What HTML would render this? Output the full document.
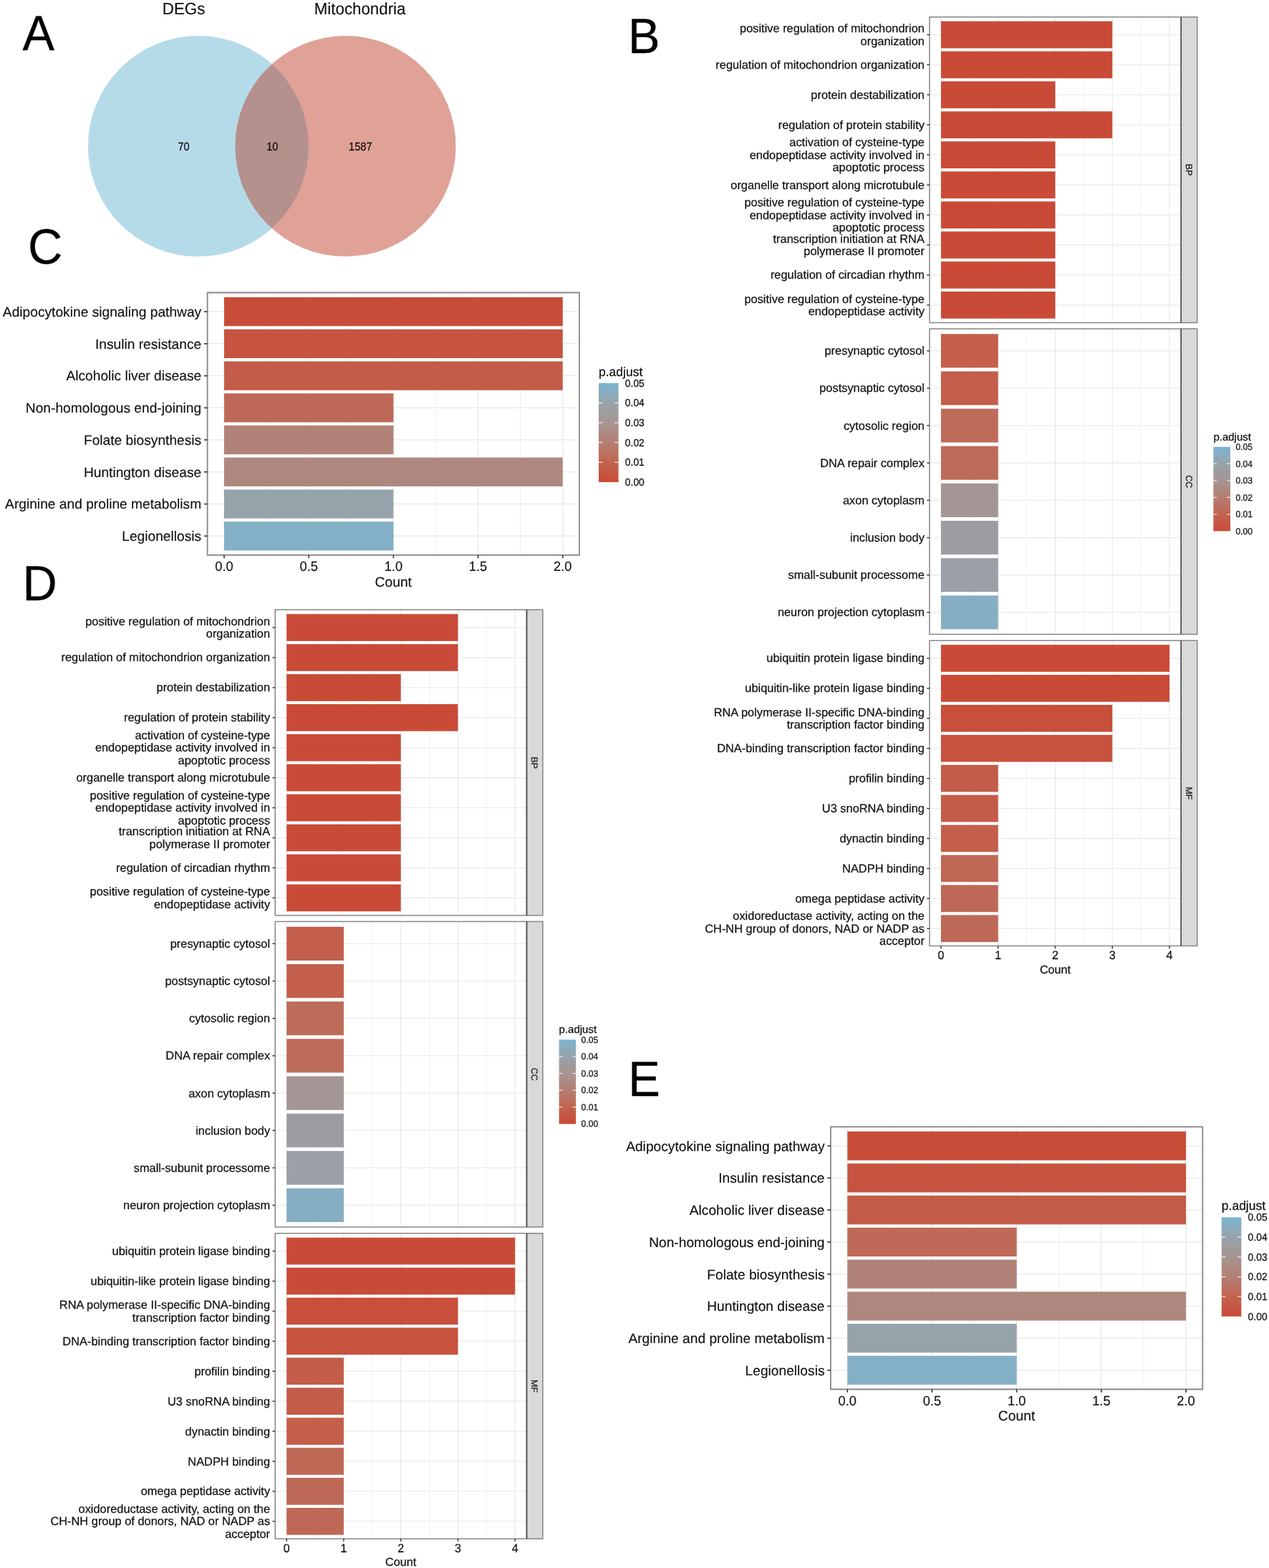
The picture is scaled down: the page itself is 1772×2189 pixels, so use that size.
<!DOCTYPE html>
<html lang="en"><head><meta charset="utf-8"><title>Figure</title>
<style>html,body{margin:0;padding:0;background:#fff}svg{display:block}text{font-family:'Liberation Sans', Arial, Helvetica, sans-serif;text-rendering:geometricPrecision}</style></head><body>
<svg width="1772" height="2189" viewBox="0 0 1772 2189">
<rect width="1772" height="2189" fill="#ffffff"/>
<defs><clipPath id="vclip"><circle cx="276.90" cy="204.10" r="154.00"/></clipPath></defs>
<circle cx="276.9" cy="204.1" r="154.0" fill="#b5dbe9"/>
<circle cx="482.5" cy="204.1" r="154.0" fill="#e0a197"/>
<circle cx="482.5" cy="204.1" r="154.0" fill="#b5918d" clip-path="url(#vclip)"/>
<text transform="translate(256.60,210.00) scale(1,1.1)" font-size="14.6" text-anchor="middle" fill="#111" stroke="#111" stroke-width="0.25">70</text>
<text transform="translate(380.25,210.00) scale(1,1.1)" font-size="14.6" text-anchor="middle" fill="#111" stroke="#111" stroke-width="0.25">10</text>
<text transform="translate(503.30,210.00) scale(1,1.1)" font-size="14.6" text-anchor="middle" fill="#111" stroke="#111" stroke-width="0.25">1587</text>
<text transform="translate(256.60,19.80) scale(1,1.04)" font-size="22.4" text-anchor="middle" fill="#111" stroke="#111" stroke-width="0.15">DEGs</text>
<text transform="translate(502.60,19.80) scale(1,1.04)" font-size="22.3" text-anchor="middle" fill="#111" stroke="#111" stroke-width="0.15">Mitochondria</text>
<text transform="translate(31.50,69.50) scale(1,1.035)" font-size="66.8" text-anchor="start" fill="#000" stroke="#000" stroke-width="0.3">A</text>
<text transform="translate(876.90,74.10) scale(1,1.035)" font-size="66.8" text-anchor="start" fill="#000" stroke="#000" stroke-width="0.3">B</text>
<text transform="translate(38.90,367.60) scale(1,1.035)" font-size="66.8" text-anchor="start" fill="#000" stroke="#000" stroke-width="0.3">C</text>
<text transform="translate(31.50,837.60) scale(1,1.035)" font-size="66.8" text-anchor="start" fill="#000" stroke="#000" stroke-width="0.3">D</text>
<text transform="translate(877.30,1530.40) scale(1,1.035)" font-size="66.8" text-anchor="start" fill="#000" stroke="#000" stroke-width="0.3">E</text>
<g>
<rect x="289.60" y="408.50" width="519.40" height="366.40" fill="#ffffff"/>
<line x1="372.09" y1="408.50" x2="372.09" y2="774.90" stroke="#ebebeb" stroke-width="0.8"/>
<line x1="490.28" y1="408.50" x2="490.28" y2="774.90" stroke="#ebebeb" stroke-width="0.8"/>
<line x1="608.47" y1="408.50" x2="608.47" y2="774.90" stroke="#ebebeb" stroke-width="0.8"/>
<line x1="726.66" y1="408.50" x2="726.66" y2="774.90" stroke="#ebebeb" stroke-width="0.8"/>
<line x1="313.00" y1="408.50" x2="313.00" y2="774.90" stroke="#ebebeb" stroke-width="1.5"/>
<line x1="431.19" y1="408.50" x2="431.19" y2="774.90" stroke="#ebebeb" stroke-width="1.5"/>
<line x1="549.38" y1="408.50" x2="549.38" y2="774.90" stroke="#ebebeb" stroke-width="1.5"/>
<line x1="667.56" y1="408.50" x2="667.56" y2="774.90" stroke="#ebebeb" stroke-width="1.5"/>
<line x1="785.75" y1="408.50" x2="785.75" y2="774.90" stroke="#ebebeb" stroke-width="1.5"/>
<line x1="289.60" y1="435.10" x2="809.00" y2="435.10" stroke="#ebebeb" stroke-width="1.5"/>
<line x1="289.60" y1="479.85" x2="809.00" y2="479.85" stroke="#ebebeb" stroke-width="1.5"/>
<line x1="289.60" y1="524.60" x2="809.00" y2="524.60" stroke="#ebebeb" stroke-width="1.5"/>
<line x1="289.60" y1="569.35" x2="809.00" y2="569.35" stroke="#ebebeb" stroke-width="1.5"/>
<line x1="289.60" y1="614.10" x2="809.00" y2="614.10" stroke="#ebebeb" stroke-width="1.5"/>
<line x1="289.60" y1="658.85" x2="809.00" y2="658.85" stroke="#ebebeb" stroke-width="1.5"/>
<line x1="289.60" y1="703.60" x2="809.00" y2="703.60" stroke="#ebebeb" stroke-width="1.5"/>
<line x1="289.60" y1="748.35" x2="809.00" y2="748.35" stroke="#ebebeb" stroke-width="1.5"/>
<rect x="313.00" y="414.95" width="472.75" height="40.30" fill="#c84d39"/>
<rect x="313.00" y="459.70" width="472.75" height="40.30" fill="#c65440"/>
<rect x="313.00" y="504.45" width="472.75" height="40.30" fill="#c35c48"/>
<rect x="313.00" y="549.20" width="236.38" height="40.30" fill="#be6957"/>
<rect x="313.00" y="593.95" width="236.38" height="40.30" fill="#b18378"/>
<rect x="313.00" y="638.70" width="472.75" height="40.30" fill="#ae887f"/>
<rect x="313.00" y="683.45" width="236.38" height="40.30" fill="#97a3ab"/>
<rect x="313.00" y="728.20" width="236.38" height="40.30" fill="#83b0c6"/>
<rect x="289.60" y="408.50" width="519.40" height="366.40" fill="none" stroke="#868686" stroke-width="1.8" stroke-linejoin="round"/>
<text x="281.20" y="441.97" font-size="19.2" text-anchor="end" fill="#111" stroke="#111" stroke-width="0.15">Adipocytokine signaling pathway</text>
<line x1="285.00" y1="435.10" x2="289.60" y2="435.10" stroke="#333333" stroke-width="1.6"/>
<text x="281.20" y="486.72" font-size="19.2" text-anchor="end" fill="#111" stroke="#111" stroke-width="0.15">Insulin resistance</text>
<line x1="285.00" y1="479.85" x2="289.60" y2="479.85" stroke="#333333" stroke-width="1.6"/>
<text x="281.20" y="531.47" font-size="19.2" text-anchor="end" fill="#111" stroke="#111" stroke-width="0.15">Alcoholic liver disease</text>
<line x1="285.00" y1="524.60" x2="289.60" y2="524.60" stroke="#333333" stroke-width="1.6"/>
<text x="281.20" y="576.22" font-size="19.2" text-anchor="end" fill="#111" stroke="#111" stroke-width="0.15">Non-homologous end-joining</text>
<line x1="285.00" y1="569.35" x2="289.60" y2="569.35" stroke="#333333" stroke-width="1.6"/>
<text x="281.20" y="620.97" font-size="19.2" text-anchor="end" fill="#111" stroke="#111" stroke-width="0.15">Folate biosynthesis</text>
<line x1="285.00" y1="614.10" x2="289.60" y2="614.10" stroke="#333333" stroke-width="1.6"/>
<text x="281.20" y="665.72" font-size="19.2" text-anchor="end" fill="#111" stroke="#111" stroke-width="0.15">Huntington disease</text>
<line x1="285.00" y1="658.85" x2="289.60" y2="658.85" stroke="#333333" stroke-width="1.6"/>
<text x="281.20" y="710.47" font-size="19.2" text-anchor="end" fill="#111" stroke="#111" stroke-width="0.15">Arginine and proline metabolism</text>
<line x1="285.00" y1="703.60" x2="289.60" y2="703.60" stroke="#333333" stroke-width="1.6"/>
<text x="281.20" y="755.22" font-size="19.2" text-anchor="end" fill="#111" stroke="#111" stroke-width="0.15">Legionellosis</text>
<line x1="285.00" y1="748.35" x2="289.60" y2="748.35" stroke="#333333" stroke-width="1.6"/>
<line x1="313.00" y1="774.90" x2="313.00" y2="779.30" stroke="#333333" stroke-width="1.6"/>
<text transform="translate(313.00,797.20) scale(1,1.04)" font-size="18.3" text-anchor="middle" fill="#111" stroke="#111" stroke-width="0.15">0.0</text>
<line x1="431.19" y1="774.90" x2="431.19" y2="779.30" stroke="#333333" stroke-width="1.6"/>
<text transform="translate(431.19,797.20) scale(1,1.04)" font-size="18.3" text-anchor="middle" fill="#111" stroke="#111" stroke-width="0.15">0.5</text>
<line x1="549.38" y1="774.90" x2="549.38" y2="779.30" stroke="#333333" stroke-width="1.6"/>
<text transform="translate(549.38,797.20) scale(1,1.04)" font-size="18.3" text-anchor="middle" fill="#111" stroke="#111" stroke-width="0.15">1.0</text>
<line x1="667.56" y1="774.90" x2="667.56" y2="779.30" stroke="#333333" stroke-width="1.6"/>
<text transform="translate(667.56,797.20) scale(1,1.04)" font-size="18.3" text-anchor="middle" fill="#111" stroke="#111" stroke-width="0.15">1.5</text>
<line x1="785.75" y1="774.90" x2="785.75" y2="779.30" stroke="#333333" stroke-width="1.6"/>
<text transform="translate(785.75,797.20) scale(1,1.04)" font-size="18.3" text-anchor="middle" fill="#111" stroke="#111" stroke-width="0.15">2.0</text>
<text x="549.25" y="818.50" font-size="19.3" text-anchor="middle" fill="#111" stroke="#111" stroke-width="0.15">Count</text>
<defs><linearGradient id="gC" x1="0" y1="0" x2="0" y2="1">
<stop offset="0.000" stop-color="#7ab5d2"/>
<stop offset="0.050" stop-color="#81b0c8"/>
<stop offset="0.100" stop-color="#88acbe"/>
<stop offset="0.150" stop-color="#90a8b5"/>
<stop offset="0.200" stop-color="#97a3ab"/>
<stop offset="0.250" stop-color="#9ba0a5"/>
<stop offset="0.300" stop-color="#9e9c9e"/>
<stop offset="0.350" stop-color="#a29898"/>
<stop offset="0.400" stop-color="#a69592"/>
<stop offset="0.450" stop-color="#aa908a"/>
<stop offset="0.500" stop-color="#ad8a82"/>
<stop offset="0.550" stop-color="#b0847a"/>
<stop offset="0.600" stop-color="#b47f72"/>
<stop offset="0.650" stop-color="#b7786a"/>
<stop offset="0.700" stop-color="#ba7261"/>
<stop offset="0.750" stop-color="#be6b58"/>
<stop offset="0.800" stop-color="#c16450"/>
<stop offset="0.850" stop-color="#c35e4a"/>
<stop offset="0.900" stop-color="#c55743"/>
<stop offset="0.950" stop-color="#c7503d"/>
<stop offset="1.000" stop-color="#c94a36"/>
</linearGradient></defs>
<rect x="836.00" y="534.70" width="27.60" height="138.40" fill="url(#gC)"/>
<text transform="translate(872.80,539.68) scale(1,1.04)" font-size="13.9" text-anchor="start" fill="#111" stroke="#111" stroke-width="0.25">0.05</text>
<line x1="836.00" y1="562.38" x2="841.40" y2="562.38" stroke="#ffffff" stroke-width="1"/>
<line x1="858.20" y1="562.38" x2="863.60" y2="562.38" stroke="#ffffff" stroke-width="1"/>
<text transform="translate(872.80,567.36) scale(1,1.04)" font-size="13.9" text-anchor="start" fill="#111" stroke="#111" stroke-width="0.25">0.04</text>
<line x1="836.00" y1="590.06" x2="841.40" y2="590.06" stroke="#ffffff" stroke-width="1"/>
<line x1="858.20" y1="590.06" x2="863.60" y2="590.06" stroke="#ffffff" stroke-width="1"/>
<text transform="translate(872.80,595.04) scale(1,1.04)" font-size="13.9" text-anchor="start" fill="#111" stroke="#111" stroke-width="0.25">0.03</text>
<line x1="836.00" y1="617.74" x2="841.40" y2="617.74" stroke="#ffffff" stroke-width="1"/>
<line x1="858.20" y1="617.74" x2="863.60" y2="617.74" stroke="#ffffff" stroke-width="1"/>
<text transform="translate(872.80,622.72) scale(1,1.04)" font-size="13.9" text-anchor="start" fill="#111" stroke="#111" stroke-width="0.25">0.02</text>
<line x1="836.00" y1="645.42" x2="841.40" y2="645.42" stroke="#ffffff" stroke-width="1"/>
<line x1="858.20" y1="645.42" x2="863.60" y2="645.42" stroke="#ffffff" stroke-width="1"/>
<text transform="translate(872.80,650.40) scale(1,1.04)" font-size="13.9" text-anchor="start" fill="#111" stroke="#111" stroke-width="0.25">0.01</text>
<text transform="translate(872.80,678.08) scale(1,1.04)" font-size="13.9" text-anchor="start" fill="#111" stroke="#111" stroke-width="0.25">0.00</text>
<text x="836.00" y="524.50" font-size="17.5" text-anchor="start" fill="#111" stroke="#111" stroke-width="0.25">p.adjust</text>
</g>
<g>
<rect x="1649.25" y="23.75" width="22.50" height="426.75" fill="#d9d9d9" stroke="#868686" stroke-width="1.5" stroke-linejoin="round"/>
<rect x="1298.00" y="23.75" width="351.25" height="426.75" fill="#ffffff"/>
<line x1="1353.88" y1="23.75" x2="1353.88" y2="450.50" stroke="#ebebeb" stroke-width="0.65"/>
<line x1="1433.62" y1="23.75" x2="1433.62" y2="450.50" stroke="#ebebeb" stroke-width="0.65"/>
<line x1="1513.38" y1="23.75" x2="1513.38" y2="450.50" stroke="#ebebeb" stroke-width="0.65"/>
<line x1="1593.12" y1="23.75" x2="1593.12" y2="450.50" stroke="#ebebeb" stroke-width="0.65"/>
<line x1="1314.00" y1="23.75" x2="1314.00" y2="450.50" stroke="#ebebeb" stroke-width="1.3"/>
<line x1="1393.75" y1="23.75" x2="1393.75" y2="450.50" stroke="#ebebeb" stroke-width="1.3"/>
<line x1="1473.50" y1="23.75" x2="1473.50" y2="450.50" stroke="#ebebeb" stroke-width="1.3"/>
<line x1="1553.25" y1="23.75" x2="1553.25" y2="450.50" stroke="#ebebeb" stroke-width="1.3"/>
<line x1="1633.00" y1="23.75" x2="1633.00" y2="450.50" stroke="#ebebeb" stroke-width="1.3"/>
<line x1="1298.00" y1="48.50" x2="1649.25" y2="48.50" stroke="#ebebeb" stroke-width="1.3"/>
<line x1="1298.00" y1="90.43" x2="1649.25" y2="90.43" stroke="#ebebeb" stroke-width="1.3"/>
<line x1="1298.00" y1="132.36" x2="1649.25" y2="132.36" stroke="#ebebeb" stroke-width="1.3"/>
<line x1="1298.00" y1="174.29" x2="1649.25" y2="174.29" stroke="#ebebeb" stroke-width="1.3"/>
<line x1="1298.00" y1="216.22" x2="1649.25" y2="216.22" stroke="#ebebeb" stroke-width="1.3"/>
<line x1="1298.00" y1="258.15" x2="1649.25" y2="258.15" stroke="#ebebeb" stroke-width="1.3"/>
<line x1="1298.00" y1="300.08" x2="1649.25" y2="300.08" stroke="#ebebeb" stroke-width="1.3"/>
<line x1="1298.00" y1="342.01" x2="1649.25" y2="342.01" stroke="#ebebeb" stroke-width="1.3"/>
<line x1="1298.00" y1="383.94" x2="1649.25" y2="383.94" stroke="#ebebeb" stroke-width="1.3"/>
<line x1="1298.00" y1="425.87" x2="1649.25" y2="425.87" stroke="#ebebeb" stroke-width="1.3"/>
<rect x="1314.00" y="29.65" width="239.25" height="37.70" fill="#c94b37"/>
<rect x="1314.00" y="71.58" width="239.25" height="37.70" fill="#c94b37"/>
<rect x="1314.00" y="113.51" width="159.50" height="37.70" fill="#c94b37"/>
<rect x="1314.00" y="155.44" width="239.25" height="37.70" fill="#c94b37"/>
<rect x="1314.00" y="197.37" width="159.50" height="37.70" fill="#c94b37"/>
<rect x="1314.00" y="239.30" width="159.50" height="37.70" fill="#c94b37"/>
<rect x="1314.00" y="281.23" width="159.50" height="37.70" fill="#c94b37"/>
<rect x="1314.00" y="323.16" width="159.50" height="37.70" fill="#c94b37"/>
<rect x="1314.00" y="365.09" width="159.50" height="37.70" fill="#c94b37"/>
<rect x="1314.00" y="407.02" width="159.50" height="37.70" fill="#c94b37"/>
<rect x="1298.00" y="23.75" width="351.25" height="426.75" fill="none" stroke="#868686" stroke-width="1.5" stroke-linejoin="round"/>
<text x="1290.90" y="45.22" font-size="16.4" text-anchor="end" fill="#111" stroke="#111" stroke-width="0.25">positive regulation of mitochondrion</text>
<text x="1290.90" y="62.72" font-size="16.4" text-anchor="end" fill="#111" stroke="#111" stroke-width="0.25">organization</text>
<line x1="1294.25" y1="48.50" x2="1298.00" y2="48.50" stroke="#333333" stroke-width="1.4"/>
<text x="1290.90" y="95.90" font-size="16.4" text-anchor="end" fill="#111" stroke="#111" stroke-width="0.25">regulation of mitochondrion organization</text>
<line x1="1294.25" y1="90.43" x2="1298.00" y2="90.43" stroke="#333333" stroke-width="1.4"/>
<text x="1290.90" y="137.83" font-size="16.4" text-anchor="end" fill="#111" stroke="#111" stroke-width="0.25">protein destabilization</text>
<line x1="1294.25" y1="132.36" x2="1298.00" y2="132.36" stroke="#333333" stroke-width="1.4"/>
<text x="1290.90" y="179.76" font-size="16.4" text-anchor="end" fill="#111" stroke="#111" stroke-width="0.25">regulation of protein stability</text>
<line x1="1294.25" y1="174.29" x2="1298.00" y2="174.29" stroke="#333333" stroke-width="1.4"/>
<text x="1290.90" y="204.19" font-size="16.4" text-anchor="end" fill="#111" stroke="#111" stroke-width="0.25">activation of cysteine-type</text>
<text x="1290.90" y="221.69" font-size="16.4" text-anchor="end" fill="#111" stroke="#111" stroke-width="0.25">endopeptidase activity involved in</text>
<text x="1290.90" y="239.19" font-size="16.4" text-anchor="end" fill="#111" stroke="#111" stroke-width="0.25">apoptotic process</text>
<line x1="1294.25" y1="216.22" x2="1298.00" y2="216.22" stroke="#333333" stroke-width="1.4"/>
<text x="1290.90" y="263.62" font-size="16.4" text-anchor="end" fill="#111" stroke="#111" stroke-width="0.25">organelle transport along microtubule</text>
<line x1="1294.25" y1="258.15" x2="1298.00" y2="258.15" stroke="#333333" stroke-width="1.4"/>
<text x="1290.90" y="288.05" font-size="16.4" text-anchor="end" fill="#111" stroke="#111" stroke-width="0.25">positive regulation of cysteine-type</text>
<text x="1290.90" y="305.55" font-size="16.4" text-anchor="end" fill="#111" stroke="#111" stroke-width="0.25">endopeptidase activity involved in</text>
<text x="1290.90" y="323.05" font-size="16.4" text-anchor="end" fill="#111" stroke="#111" stroke-width="0.25">apoptotic process</text>
<line x1="1294.25" y1="300.08" x2="1298.00" y2="300.08" stroke="#333333" stroke-width="1.4"/>
<text x="1290.90" y="338.73" font-size="16.4" text-anchor="end" fill="#111" stroke="#111" stroke-width="0.25">transcription initiation at RNA</text>
<text x="1290.90" y="356.23" font-size="16.4" text-anchor="end" fill="#111" stroke="#111" stroke-width="0.25">polymerase II promoter</text>
<line x1="1294.25" y1="342.01" x2="1298.00" y2="342.01" stroke="#333333" stroke-width="1.4"/>
<text x="1290.90" y="389.41" font-size="16.4" text-anchor="end" fill="#111" stroke="#111" stroke-width="0.25">regulation of circadian rhythm</text>
<line x1="1294.25" y1="383.94" x2="1298.00" y2="383.94" stroke="#333333" stroke-width="1.4"/>
<text x="1290.90" y="422.59" font-size="16.4" text-anchor="end" fill="#111" stroke="#111" stroke-width="0.25">positive regulation of cysteine-type</text>
<text x="1290.90" y="440.09" font-size="16.4" text-anchor="end" fill="#111" stroke="#111" stroke-width="0.25">endopeptidase activity</text>
<line x1="1294.25" y1="425.87" x2="1298.00" y2="425.87" stroke="#333333" stroke-width="1.4"/>
<line x1="1649.25" y1="23.75" x2="1649.25" y2="450.50" stroke="#4d4d4d" stroke-width="1.6"/>
<text transform="translate(1656.10,237.12) rotate(90)" font-size="12.5" text-anchor="middle" fill="#1a1a1a" stroke="#1a1a1a" stroke-width="0.25">BP</text>
<rect x="1649.25" y="459.00" width="22.50" height="426.50" fill="#d9d9d9" stroke="#868686" stroke-width="1.5" stroke-linejoin="round"/>
<rect x="1298.00" y="459.00" width="351.25" height="426.50" fill="#ffffff"/>
<line x1="1353.88" y1="459.00" x2="1353.88" y2="885.50" stroke="#ebebeb" stroke-width="0.65"/>
<line x1="1433.62" y1="459.00" x2="1433.62" y2="885.50" stroke="#ebebeb" stroke-width="0.65"/>
<line x1="1513.38" y1="459.00" x2="1513.38" y2="885.50" stroke="#ebebeb" stroke-width="0.65"/>
<line x1="1593.12" y1="459.00" x2="1593.12" y2="885.50" stroke="#ebebeb" stroke-width="0.65"/>
<line x1="1314.00" y1="459.00" x2="1314.00" y2="885.50" stroke="#ebebeb" stroke-width="1.3"/>
<line x1="1393.75" y1="459.00" x2="1393.75" y2="885.50" stroke="#ebebeb" stroke-width="1.3"/>
<line x1="1473.50" y1="459.00" x2="1473.50" y2="885.50" stroke="#ebebeb" stroke-width="1.3"/>
<line x1="1553.25" y1="459.00" x2="1553.25" y2="885.50" stroke="#ebebeb" stroke-width="1.3"/>
<line x1="1633.00" y1="459.00" x2="1633.00" y2="885.50" stroke="#ebebeb" stroke-width="1.3"/>
<line x1="1298.00" y1="489.80" x2="1649.25" y2="489.80" stroke="#ebebeb" stroke-width="1.3"/>
<line x1="1298.00" y1="541.96" x2="1649.25" y2="541.96" stroke="#ebebeb" stroke-width="1.3"/>
<line x1="1298.00" y1="594.12" x2="1649.25" y2="594.12" stroke="#ebebeb" stroke-width="1.3"/>
<line x1="1298.00" y1="646.28" x2="1649.25" y2="646.28" stroke="#ebebeb" stroke-width="1.3"/>
<line x1="1298.00" y1="698.44" x2="1649.25" y2="698.44" stroke="#ebebeb" stroke-width="1.3"/>
<line x1="1298.00" y1="750.60" x2="1649.25" y2="750.60" stroke="#ebebeb" stroke-width="1.3"/>
<line x1="1298.00" y1="802.76" x2="1649.25" y2="802.76" stroke="#ebebeb" stroke-width="1.3"/>
<line x1="1298.00" y1="854.92" x2="1649.25" y2="854.92" stroke="#ebebeb" stroke-width="1.3"/>
<rect x="1314.00" y="466.25" width="79.75" height="47.10" fill="#c35f4b"/>
<rect x="1314.00" y="518.41" width="79.75" height="47.10" fill="#c35f4b"/>
<rect x="1314.00" y="570.57" width="79.75" height="47.10" fill="#bd6c5a"/>
<rect x="1314.00" y="622.73" width="79.75" height="47.10" fill="#bd6c5a"/>
<rect x="1314.00" y="674.89" width="79.75" height="47.10" fill="#a49694"/>
<rect x="1314.00" y="727.05" width="79.75" height="47.10" fill="#9d9da1"/>
<rect x="1314.00" y="779.21" width="79.75" height="47.10" fill="#9aa0a6"/>
<rect x="1314.00" y="831.37" width="79.75" height="47.10" fill="#86aec2"/>
<rect x="1298.00" y="459.00" width="351.25" height="426.50" fill="none" stroke="#868686" stroke-width="1.5" stroke-linejoin="round"/>
<text x="1290.90" y="495.27" font-size="16.4" text-anchor="end" fill="#111" stroke="#111" stroke-width="0.25">presynaptic cytosol</text>
<line x1="1294.25" y1="489.80" x2="1298.00" y2="489.80" stroke="#333333" stroke-width="1.4"/>
<text x="1290.90" y="547.43" font-size="16.4" text-anchor="end" fill="#111" stroke="#111" stroke-width="0.25">postsynaptic cytosol</text>
<line x1="1294.25" y1="541.96" x2="1298.00" y2="541.96" stroke="#333333" stroke-width="1.4"/>
<text x="1290.90" y="599.59" font-size="16.4" text-anchor="end" fill="#111" stroke="#111" stroke-width="0.25">cytosolic region</text>
<line x1="1294.25" y1="594.12" x2="1298.00" y2="594.12" stroke="#333333" stroke-width="1.4"/>
<text x="1290.90" y="651.75" font-size="16.4" text-anchor="end" fill="#111" stroke="#111" stroke-width="0.25">DNA repair complex</text>
<line x1="1294.25" y1="646.28" x2="1298.00" y2="646.28" stroke="#333333" stroke-width="1.4"/>
<text x="1290.90" y="703.91" font-size="16.4" text-anchor="end" fill="#111" stroke="#111" stroke-width="0.25">axon cytoplasm</text>
<line x1="1294.25" y1="698.44" x2="1298.00" y2="698.44" stroke="#333333" stroke-width="1.4"/>
<text x="1290.90" y="756.07" font-size="16.4" text-anchor="end" fill="#111" stroke="#111" stroke-width="0.25">inclusion body</text>
<line x1="1294.25" y1="750.60" x2="1298.00" y2="750.60" stroke="#333333" stroke-width="1.4"/>
<text x="1290.90" y="808.23" font-size="16.4" text-anchor="end" fill="#111" stroke="#111" stroke-width="0.25">small-subunit processome</text>
<line x1="1294.25" y1="802.76" x2="1298.00" y2="802.76" stroke="#333333" stroke-width="1.4"/>
<text x="1290.90" y="860.39" font-size="16.4" text-anchor="end" fill="#111" stroke="#111" stroke-width="0.25">neuron projection cytoplasm</text>
<line x1="1294.25" y1="854.92" x2="1298.00" y2="854.92" stroke="#333333" stroke-width="1.4"/>
<line x1="1649.25" y1="459.00" x2="1649.25" y2="885.50" stroke="#4d4d4d" stroke-width="1.6"/>
<text transform="translate(1656.10,672.25) rotate(90)" font-size="12.5" text-anchor="middle" fill="#1a1a1a" stroke="#1a1a1a" stroke-width="0.25">CC</text>
<rect x="1649.25" y="894.25" width="22.50" height="426.35" fill="#d9d9d9" stroke="#868686" stroke-width="1.5" stroke-linejoin="round"/>
<rect x="1298.00" y="894.25" width="351.25" height="426.35" fill="#ffffff"/>
<line x1="1353.88" y1="894.25" x2="1353.88" y2="1320.60" stroke="#ebebeb" stroke-width="0.65"/>
<line x1="1433.62" y1="894.25" x2="1433.62" y2="1320.60" stroke="#ebebeb" stroke-width="0.65"/>
<line x1="1513.38" y1="894.25" x2="1513.38" y2="1320.60" stroke="#ebebeb" stroke-width="0.65"/>
<line x1="1593.12" y1="894.25" x2="1593.12" y2="1320.60" stroke="#ebebeb" stroke-width="0.65"/>
<line x1="1314.00" y1="894.25" x2="1314.00" y2="1320.60" stroke="#ebebeb" stroke-width="1.3"/>
<line x1="1393.75" y1="894.25" x2="1393.75" y2="1320.60" stroke="#ebebeb" stroke-width="1.3"/>
<line x1="1473.50" y1="894.25" x2="1473.50" y2="1320.60" stroke="#ebebeb" stroke-width="1.3"/>
<line x1="1553.25" y1="894.25" x2="1553.25" y2="1320.60" stroke="#ebebeb" stroke-width="1.3"/>
<line x1="1633.00" y1="894.25" x2="1633.00" y2="1320.60" stroke="#ebebeb" stroke-width="1.3"/>
<line x1="1298.00" y1="919.00" x2="1649.25" y2="919.00" stroke="#ebebeb" stroke-width="1.3"/>
<line x1="1298.00" y1="960.92" x2="1649.25" y2="960.92" stroke="#ebebeb" stroke-width="1.3"/>
<line x1="1298.00" y1="1002.84" x2="1649.25" y2="1002.84" stroke="#ebebeb" stroke-width="1.3"/>
<line x1="1298.00" y1="1044.76" x2="1649.25" y2="1044.76" stroke="#ebebeb" stroke-width="1.3"/>
<line x1="1298.00" y1="1086.68" x2="1649.25" y2="1086.68" stroke="#ebebeb" stroke-width="1.3"/>
<line x1="1298.00" y1="1128.60" x2="1649.25" y2="1128.60" stroke="#ebebeb" stroke-width="1.3"/>
<line x1="1298.00" y1="1170.52" x2="1649.25" y2="1170.52" stroke="#ebebeb" stroke-width="1.3"/>
<line x1="1298.00" y1="1212.44" x2="1649.25" y2="1212.44" stroke="#ebebeb" stroke-width="1.3"/>
<line x1="1298.00" y1="1254.36" x2="1649.25" y2="1254.36" stroke="#ebebeb" stroke-width="1.3"/>
<line x1="1298.00" y1="1296.28" x2="1649.25" y2="1296.28" stroke="#ebebeb" stroke-width="1.3"/>
<rect x="1314.00" y="900.15" width="319.00" height="37.70" fill="#c94b37"/>
<rect x="1314.00" y="942.07" width="319.00" height="37.70" fill="#c94b37"/>
<rect x="1314.00" y="983.99" width="239.25" height="37.70" fill="#c74f3b"/>
<rect x="1314.00" y="1025.91" width="239.25" height="37.70" fill="#c7523e"/>
<rect x="1314.00" y="1067.83" width="79.75" height="37.70" fill="#c35c48"/>
<rect x="1314.00" y="1109.75" width="79.75" height="37.70" fill="#c35c48"/>
<rect x="1314.00" y="1151.67" width="79.75" height="37.70" fill="#c35f4b"/>
<rect x="1314.00" y="1193.59" width="79.75" height="37.70" fill="#bf6855"/>
<rect x="1314.00" y="1235.51" width="79.75" height="37.70" fill="#be6957"/>
<rect x="1314.00" y="1277.43" width="79.75" height="37.70" fill="#be6957"/>
<rect x="1298.00" y="894.25" width="351.25" height="426.35" fill="none" stroke="#868686" stroke-width="1.5" stroke-linejoin="round"/>
<text x="1290.90" y="924.47" font-size="16.4" text-anchor="end" fill="#111" stroke="#111" stroke-width="0.25">ubiquitin protein ligase binding</text>
<line x1="1294.25" y1="919.00" x2="1298.00" y2="919.00" stroke="#333333" stroke-width="1.4"/>
<text x="1290.90" y="966.39" font-size="16.4" text-anchor="end" fill="#111" stroke="#111" stroke-width="0.25">ubiquitin-like protein ligase binding</text>
<line x1="1294.25" y1="960.92" x2="1298.00" y2="960.92" stroke="#333333" stroke-width="1.4"/>
<text x="1290.90" y="999.56" font-size="16.4" text-anchor="end" fill="#111" stroke="#111" stroke-width="0.25">RNA polymerase II-specific DNA-binding</text>
<text x="1290.90" y="1017.06" font-size="16.4" text-anchor="end" fill="#111" stroke="#111" stroke-width="0.25">transcription factor binding</text>
<line x1="1294.25" y1="1002.84" x2="1298.00" y2="1002.84" stroke="#333333" stroke-width="1.4"/>
<text x="1290.90" y="1050.23" font-size="16.4" text-anchor="end" fill="#111" stroke="#111" stroke-width="0.25">DNA-binding transcription factor binding</text>
<line x1="1294.25" y1="1044.76" x2="1298.00" y2="1044.76" stroke="#333333" stroke-width="1.4"/>
<text x="1290.90" y="1092.15" font-size="16.4" text-anchor="end" fill="#111" stroke="#111" stroke-width="0.25">profilin binding</text>
<line x1="1294.25" y1="1086.68" x2="1298.00" y2="1086.68" stroke="#333333" stroke-width="1.4"/>
<text x="1290.90" y="1134.07" font-size="16.4" text-anchor="end" fill="#111" stroke="#111" stroke-width="0.25">U3 snoRNA binding</text>
<line x1="1294.25" y1="1128.60" x2="1298.00" y2="1128.60" stroke="#333333" stroke-width="1.4"/>
<text x="1290.90" y="1175.99" font-size="16.4" text-anchor="end" fill="#111" stroke="#111" stroke-width="0.25">dynactin binding</text>
<line x1="1294.25" y1="1170.52" x2="1298.00" y2="1170.52" stroke="#333333" stroke-width="1.4"/>
<text x="1290.90" y="1217.91" font-size="16.4" text-anchor="end" fill="#111" stroke="#111" stroke-width="0.25">NADPH binding</text>
<line x1="1294.25" y1="1212.44" x2="1298.00" y2="1212.44" stroke="#333333" stroke-width="1.4"/>
<text x="1290.90" y="1259.83" font-size="16.4" text-anchor="end" fill="#111" stroke="#111" stroke-width="0.25">omega peptidase activity</text>
<line x1="1294.25" y1="1254.36" x2="1298.00" y2="1254.36" stroke="#333333" stroke-width="1.4"/>
<text x="1290.90" y="1284.25" font-size="16.4" text-anchor="end" fill="#111" stroke="#111" stroke-width="0.25">oxidoreductase activity, acting on the</text>
<text x="1290.90" y="1301.75" font-size="16.4" text-anchor="end" fill="#111" stroke="#111" stroke-width="0.25">CH-NH group of donors, NAD or NADP as</text>
<text x="1290.90" y="1319.25" font-size="16.4" text-anchor="end" fill="#111" stroke="#111" stroke-width="0.25">acceptor</text>
<line x1="1294.25" y1="1296.28" x2="1298.00" y2="1296.28" stroke="#333333" stroke-width="1.4"/>
<line x1="1649.25" y1="894.25" x2="1649.25" y2="1320.60" stroke="#4d4d4d" stroke-width="1.6"/>
<text transform="translate(1656.10,1107.42) rotate(90)" font-size="12.5" text-anchor="middle" fill="#1a1a1a" stroke="#1a1a1a" stroke-width="0.25">MF</text>
<line x1="1314.00" y1="1320.50" x2="1314.00" y2="1324.40" stroke="#333333" stroke-width="1.4"/>
<text transform="translate(1314.00,1339.40) scale(1,1.04)" font-size="16" text-anchor="middle" fill="#111" stroke="#111" stroke-width="0.25">0</text>
<line x1="1393.75" y1="1320.50" x2="1393.75" y2="1324.40" stroke="#333333" stroke-width="1.4"/>
<text transform="translate(1393.75,1339.40) scale(1,1.04)" font-size="16" text-anchor="middle" fill="#111" stroke="#111" stroke-width="0.25">1</text>
<line x1="1473.50" y1="1320.50" x2="1473.50" y2="1324.40" stroke="#333333" stroke-width="1.4"/>
<text transform="translate(1473.50,1339.40) scale(1,1.04)" font-size="16" text-anchor="middle" fill="#111" stroke="#111" stroke-width="0.25">2</text>
<line x1="1553.25" y1="1320.50" x2="1553.25" y2="1324.40" stroke="#333333" stroke-width="1.4"/>
<text transform="translate(1553.25,1339.40) scale(1,1.04)" font-size="16" text-anchor="middle" fill="#111" stroke="#111" stroke-width="0.25">3</text>
<line x1="1633.00" y1="1320.50" x2="1633.00" y2="1324.40" stroke="#333333" stroke-width="1.4"/>
<text transform="translate(1633.00,1339.40) scale(1,1.04)" font-size="16" text-anchor="middle" fill="#111" stroke="#111" stroke-width="0.25">4</text>
<text x="1473.50" y="1358.75" font-size="16.2" text-anchor="middle" fill="#111" stroke="#111" stroke-width="0.25">Count</text>
<defs><linearGradient id="gB" x1="0" y1="0" x2="0" y2="1">
<stop offset="0.000" stop-color="#7ab5d2"/>
<stop offset="0.050" stop-color="#81b0c8"/>
<stop offset="0.100" stop-color="#88acbe"/>
<stop offset="0.150" stop-color="#90a8b5"/>
<stop offset="0.200" stop-color="#97a3ab"/>
<stop offset="0.250" stop-color="#9ba0a5"/>
<stop offset="0.300" stop-color="#9e9c9e"/>
<stop offset="0.350" stop-color="#a29898"/>
<stop offset="0.400" stop-color="#a69592"/>
<stop offset="0.450" stop-color="#aa908a"/>
<stop offset="0.500" stop-color="#ad8a82"/>
<stop offset="0.550" stop-color="#b0847a"/>
<stop offset="0.600" stop-color="#b47f72"/>
<stop offset="0.650" stop-color="#b7786a"/>
<stop offset="0.700" stop-color="#ba7261"/>
<stop offset="0.750" stop-color="#be6b58"/>
<stop offset="0.800" stop-color="#c16450"/>
<stop offset="0.850" stop-color="#c35e4a"/>
<stop offset="0.900" stop-color="#c55743"/>
<stop offset="0.950" stop-color="#c7503d"/>
<stop offset="1.000" stop-color="#c94a36"/>
</linearGradient></defs>
<rect x="1694.40" y="623.80" width="23.60" height="117.70" fill="url(#gB)"/>
<text transform="translate(1725.40,628.17) scale(1,1.04)" font-size="12.2" text-anchor="start" fill="#111" stroke="#111" stroke-width="0.25">0.05</text>
<line x1="1694.40" y1="647.34" x2="1699.10" y2="647.34" stroke="#ffffff" stroke-width="1"/>
<line x1="1713.30" y1="647.34" x2="1718.00" y2="647.34" stroke="#ffffff" stroke-width="1"/>
<text transform="translate(1725.40,651.71) scale(1,1.04)" font-size="12.2" text-anchor="start" fill="#111" stroke="#111" stroke-width="0.25">0.04</text>
<line x1="1694.40" y1="670.88" x2="1699.10" y2="670.88" stroke="#ffffff" stroke-width="1"/>
<line x1="1713.30" y1="670.88" x2="1718.00" y2="670.88" stroke="#ffffff" stroke-width="1"/>
<text transform="translate(1725.40,675.25) scale(1,1.04)" font-size="12.2" text-anchor="start" fill="#111" stroke="#111" stroke-width="0.25">0.03</text>
<line x1="1694.40" y1="694.42" x2="1699.10" y2="694.42" stroke="#ffffff" stroke-width="1"/>
<line x1="1713.30" y1="694.42" x2="1718.00" y2="694.42" stroke="#ffffff" stroke-width="1"/>
<text transform="translate(1725.40,698.79) scale(1,1.04)" font-size="12.2" text-anchor="start" fill="#111" stroke="#111" stroke-width="0.25">0.02</text>
<line x1="1694.40" y1="717.96" x2="1699.10" y2="717.96" stroke="#ffffff" stroke-width="1"/>
<line x1="1713.30" y1="717.96" x2="1718.00" y2="717.96" stroke="#ffffff" stroke-width="1"/>
<text transform="translate(1725.40,722.33) scale(1,1.04)" font-size="12.2" text-anchor="start" fill="#111" stroke="#111" stroke-width="0.25">0.01</text>
<text transform="translate(1725.40,745.87) scale(1,1.04)" font-size="12.2" text-anchor="start" fill="#111" stroke="#111" stroke-width="0.25">0.00</text>
<text x="1694.40" y="614.60" font-size="15" text-anchor="start" fill="#111" stroke="#111" stroke-width="0.25">p.adjust</text>
</g>
<g transform="translate(-913.8,827.6)">
<rect x="1649.25" y="23.75" width="22.50" height="426.75" fill="#d9d9d9" stroke="#868686" stroke-width="1.5" stroke-linejoin="round"/>
<rect x="1298.00" y="23.75" width="351.25" height="426.75" fill="#ffffff"/>
<line x1="1353.88" y1="23.75" x2="1353.88" y2="450.50" stroke="#ebebeb" stroke-width="0.65"/>
<line x1="1433.62" y1="23.75" x2="1433.62" y2="450.50" stroke="#ebebeb" stroke-width="0.65"/>
<line x1="1513.38" y1="23.75" x2="1513.38" y2="450.50" stroke="#ebebeb" stroke-width="0.65"/>
<line x1="1593.12" y1="23.75" x2="1593.12" y2="450.50" stroke="#ebebeb" stroke-width="0.65"/>
<line x1="1314.00" y1="23.75" x2="1314.00" y2="450.50" stroke="#ebebeb" stroke-width="1.3"/>
<line x1="1393.75" y1="23.75" x2="1393.75" y2="450.50" stroke="#ebebeb" stroke-width="1.3"/>
<line x1="1473.50" y1="23.75" x2="1473.50" y2="450.50" stroke="#ebebeb" stroke-width="1.3"/>
<line x1="1553.25" y1="23.75" x2="1553.25" y2="450.50" stroke="#ebebeb" stroke-width="1.3"/>
<line x1="1633.00" y1="23.75" x2="1633.00" y2="450.50" stroke="#ebebeb" stroke-width="1.3"/>
<line x1="1298.00" y1="48.50" x2="1649.25" y2="48.50" stroke="#ebebeb" stroke-width="1.3"/>
<line x1="1298.00" y1="90.43" x2="1649.25" y2="90.43" stroke="#ebebeb" stroke-width="1.3"/>
<line x1="1298.00" y1="132.36" x2="1649.25" y2="132.36" stroke="#ebebeb" stroke-width="1.3"/>
<line x1="1298.00" y1="174.29" x2="1649.25" y2="174.29" stroke="#ebebeb" stroke-width="1.3"/>
<line x1="1298.00" y1="216.22" x2="1649.25" y2="216.22" stroke="#ebebeb" stroke-width="1.3"/>
<line x1="1298.00" y1="258.15" x2="1649.25" y2="258.15" stroke="#ebebeb" stroke-width="1.3"/>
<line x1="1298.00" y1="300.08" x2="1649.25" y2="300.08" stroke="#ebebeb" stroke-width="1.3"/>
<line x1="1298.00" y1="342.01" x2="1649.25" y2="342.01" stroke="#ebebeb" stroke-width="1.3"/>
<line x1="1298.00" y1="383.94" x2="1649.25" y2="383.94" stroke="#ebebeb" stroke-width="1.3"/>
<line x1="1298.00" y1="425.87" x2="1649.25" y2="425.87" stroke="#ebebeb" stroke-width="1.3"/>
<rect x="1314.00" y="29.65" width="239.25" height="37.70" fill="#c94b37"/>
<rect x="1314.00" y="71.58" width="239.25" height="37.70" fill="#c94b37"/>
<rect x="1314.00" y="113.51" width="159.50" height="37.70" fill="#c94b37"/>
<rect x="1314.00" y="155.44" width="239.25" height="37.70" fill="#c94b37"/>
<rect x="1314.00" y="197.37" width="159.50" height="37.70" fill="#c94b37"/>
<rect x="1314.00" y="239.30" width="159.50" height="37.70" fill="#c94b37"/>
<rect x="1314.00" y="281.23" width="159.50" height="37.70" fill="#c94b37"/>
<rect x="1314.00" y="323.16" width="159.50" height="37.70" fill="#c94b37"/>
<rect x="1314.00" y="365.09" width="159.50" height="37.70" fill="#c94b37"/>
<rect x="1314.00" y="407.02" width="159.50" height="37.70" fill="#c94b37"/>
<rect x="1298.00" y="23.75" width="351.25" height="426.75" fill="none" stroke="#868686" stroke-width="1.5" stroke-linejoin="round"/>
<text x="1290.90" y="45.22" font-size="16.4" text-anchor="end" fill="#111" stroke="#111" stroke-width="0.25">positive regulation of mitochondrion</text>
<text x="1290.90" y="62.72" font-size="16.4" text-anchor="end" fill="#111" stroke="#111" stroke-width="0.25">organization</text>
<line x1="1294.25" y1="48.50" x2="1298.00" y2="48.50" stroke="#333333" stroke-width="1.4"/>
<text x="1290.90" y="95.90" font-size="16.4" text-anchor="end" fill="#111" stroke="#111" stroke-width="0.25">regulation of mitochondrion organization</text>
<line x1="1294.25" y1="90.43" x2="1298.00" y2="90.43" stroke="#333333" stroke-width="1.4"/>
<text x="1290.90" y="137.83" font-size="16.4" text-anchor="end" fill="#111" stroke="#111" stroke-width="0.25">protein destabilization</text>
<line x1="1294.25" y1="132.36" x2="1298.00" y2="132.36" stroke="#333333" stroke-width="1.4"/>
<text x="1290.90" y="179.76" font-size="16.4" text-anchor="end" fill="#111" stroke="#111" stroke-width="0.25">regulation of protein stability</text>
<line x1="1294.25" y1="174.29" x2="1298.00" y2="174.29" stroke="#333333" stroke-width="1.4"/>
<text x="1290.90" y="204.19" font-size="16.4" text-anchor="end" fill="#111" stroke="#111" stroke-width="0.25">activation of cysteine-type</text>
<text x="1290.90" y="221.69" font-size="16.4" text-anchor="end" fill="#111" stroke="#111" stroke-width="0.25">endopeptidase activity involved in</text>
<text x="1290.90" y="239.19" font-size="16.4" text-anchor="end" fill="#111" stroke="#111" stroke-width="0.25">apoptotic process</text>
<line x1="1294.25" y1="216.22" x2="1298.00" y2="216.22" stroke="#333333" stroke-width="1.4"/>
<text x="1290.90" y="263.62" font-size="16.4" text-anchor="end" fill="#111" stroke="#111" stroke-width="0.25">organelle transport along microtubule</text>
<line x1="1294.25" y1="258.15" x2="1298.00" y2="258.15" stroke="#333333" stroke-width="1.4"/>
<text x="1290.90" y="288.05" font-size="16.4" text-anchor="end" fill="#111" stroke="#111" stroke-width="0.25">positive regulation of cysteine-type</text>
<text x="1290.90" y="305.55" font-size="16.4" text-anchor="end" fill="#111" stroke="#111" stroke-width="0.25">endopeptidase activity involved in</text>
<text x="1290.90" y="323.05" font-size="16.4" text-anchor="end" fill="#111" stroke="#111" stroke-width="0.25">apoptotic process</text>
<line x1="1294.25" y1="300.08" x2="1298.00" y2="300.08" stroke="#333333" stroke-width="1.4"/>
<text x="1290.90" y="338.73" font-size="16.4" text-anchor="end" fill="#111" stroke="#111" stroke-width="0.25">transcription initiation at RNA</text>
<text x="1290.90" y="356.23" font-size="16.4" text-anchor="end" fill="#111" stroke="#111" stroke-width="0.25">polymerase II promoter</text>
<line x1="1294.25" y1="342.01" x2="1298.00" y2="342.01" stroke="#333333" stroke-width="1.4"/>
<text x="1290.90" y="389.41" font-size="16.4" text-anchor="end" fill="#111" stroke="#111" stroke-width="0.25">regulation of circadian rhythm</text>
<line x1="1294.25" y1="383.94" x2="1298.00" y2="383.94" stroke="#333333" stroke-width="1.4"/>
<text x="1290.90" y="422.59" font-size="16.4" text-anchor="end" fill="#111" stroke="#111" stroke-width="0.25">positive regulation of cysteine-type</text>
<text x="1290.90" y="440.09" font-size="16.4" text-anchor="end" fill="#111" stroke="#111" stroke-width="0.25">endopeptidase activity</text>
<line x1="1294.25" y1="425.87" x2="1298.00" y2="425.87" stroke="#333333" stroke-width="1.4"/>
<line x1="1649.25" y1="23.75" x2="1649.25" y2="450.50" stroke="#4d4d4d" stroke-width="1.6"/>
<text transform="translate(1656.10,237.12) rotate(90)" font-size="12.5" text-anchor="middle" fill="#1a1a1a" stroke="#1a1a1a" stroke-width="0.25">BP</text>
<rect x="1649.25" y="459.00" width="22.50" height="426.50" fill="#d9d9d9" stroke="#868686" stroke-width="1.5" stroke-linejoin="round"/>
<rect x="1298.00" y="459.00" width="351.25" height="426.50" fill="#ffffff"/>
<line x1="1353.88" y1="459.00" x2="1353.88" y2="885.50" stroke="#ebebeb" stroke-width="0.65"/>
<line x1="1433.62" y1="459.00" x2="1433.62" y2="885.50" stroke="#ebebeb" stroke-width="0.65"/>
<line x1="1513.38" y1="459.00" x2="1513.38" y2="885.50" stroke="#ebebeb" stroke-width="0.65"/>
<line x1="1593.12" y1="459.00" x2="1593.12" y2="885.50" stroke="#ebebeb" stroke-width="0.65"/>
<line x1="1314.00" y1="459.00" x2="1314.00" y2="885.50" stroke="#ebebeb" stroke-width="1.3"/>
<line x1="1393.75" y1="459.00" x2="1393.75" y2="885.50" stroke="#ebebeb" stroke-width="1.3"/>
<line x1="1473.50" y1="459.00" x2="1473.50" y2="885.50" stroke="#ebebeb" stroke-width="1.3"/>
<line x1="1553.25" y1="459.00" x2="1553.25" y2="885.50" stroke="#ebebeb" stroke-width="1.3"/>
<line x1="1633.00" y1="459.00" x2="1633.00" y2="885.50" stroke="#ebebeb" stroke-width="1.3"/>
<line x1="1298.00" y1="489.80" x2="1649.25" y2="489.80" stroke="#ebebeb" stroke-width="1.3"/>
<line x1="1298.00" y1="541.96" x2="1649.25" y2="541.96" stroke="#ebebeb" stroke-width="1.3"/>
<line x1="1298.00" y1="594.12" x2="1649.25" y2="594.12" stroke="#ebebeb" stroke-width="1.3"/>
<line x1="1298.00" y1="646.28" x2="1649.25" y2="646.28" stroke="#ebebeb" stroke-width="1.3"/>
<line x1="1298.00" y1="698.44" x2="1649.25" y2="698.44" stroke="#ebebeb" stroke-width="1.3"/>
<line x1="1298.00" y1="750.60" x2="1649.25" y2="750.60" stroke="#ebebeb" stroke-width="1.3"/>
<line x1="1298.00" y1="802.76" x2="1649.25" y2="802.76" stroke="#ebebeb" stroke-width="1.3"/>
<line x1="1298.00" y1="854.92" x2="1649.25" y2="854.92" stroke="#ebebeb" stroke-width="1.3"/>
<rect x="1314.00" y="466.25" width="79.75" height="47.10" fill="#c35f4b"/>
<rect x="1314.00" y="518.41" width="79.75" height="47.10" fill="#c35f4b"/>
<rect x="1314.00" y="570.57" width="79.75" height="47.10" fill="#bd6c5a"/>
<rect x="1314.00" y="622.73" width="79.75" height="47.10" fill="#bd6c5a"/>
<rect x="1314.00" y="674.89" width="79.75" height="47.10" fill="#a49694"/>
<rect x="1314.00" y="727.05" width="79.75" height="47.10" fill="#9d9da1"/>
<rect x="1314.00" y="779.21" width="79.75" height="47.10" fill="#9aa0a6"/>
<rect x="1314.00" y="831.37" width="79.75" height="47.10" fill="#86aec2"/>
<rect x="1298.00" y="459.00" width="351.25" height="426.50" fill="none" stroke="#868686" stroke-width="1.5" stroke-linejoin="round"/>
<text x="1290.90" y="495.27" font-size="16.4" text-anchor="end" fill="#111" stroke="#111" stroke-width="0.25">presynaptic cytosol</text>
<line x1="1294.25" y1="489.80" x2="1298.00" y2="489.80" stroke="#333333" stroke-width="1.4"/>
<text x="1290.90" y="547.43" font-size="16.4" text-anchor="end" fill="#111" stroke="#111" stroke-width="0.25">postsynaptic cytosol</text>
<line x1="1294.25" y1="541.96" x2="1298.00" y2="541.96" stroke="#333333" stroke-width="1.4"/>
<text x="1290.90" y="599.59" font-size="16.4" text-anchor="end" fill="#111" stroke="#111" stroke-width="0.25">cytosolic region</text>
<line x1="1294.25" y1="594.12" x2="1298.00" y2="594.12" stroke="#333333" stroke-width="1.4"/>
<text x="1290.90" y="651.75" font-size="16.4" text-anchor="end" fill="#111" stroke="#111" stroke-width="0.25">DNA repair complex</text>
<line x1="1294.25" y1="646.28" x2="1298.00" y2="646.28" stroke="#333333" stroke-width="1.4"/>
<text x="1290.90" y="703.91" font-size="16.4" text-anchor="end" fill="#111" stroke="#111" stroke-width="0.25">axon cytoplasm</text>
<line x1="1294.25" y1="698.44" x2="1298.00" y2="698.44" stroke="#333333" stroke-width="1.4"/>
<text x="1290.90" y="756.07" font-size="16.4" text-anchor="end" fill="#111" stroke="#111" stroke-width="0.25">inclusion body</text>
<line x1="1294.25" y1="750.60" x2="1298.00" y2="750.60" stroke="#333333" stroke-width="1.4"/>
<text x="1290.90" y="808.23" font-size="16.4" text-anchor="end" fill="#111" stroke="#111" stroke-width="0.25">small-subunit processome</text>
<line x1="1294.25" y1="802.76" x2="1298.00" y2="802.76" stroke="#333333" stroke-width="1.4"/>
<text x="1290.90" y="860.39" font-size="16.4" text-anchor="end" fill="#111" stroke="#111" stroke-width="0.25">neuron projection cytoplasm</text>
<line x1="1294.25" y1="854.92" x2="1298.00" y2="854.92" stroke="#333333" stroke-width="1.4"/>
<line x1="1649.25" y1="459.00" x2="1649.25" y2="885.50" stroke="#4d4d4d" stroke-width="1.6"/>
<text transform="translate(1656.10,672.25) rotate(90)" font-size="12.5" text-anchor="middle" fill="#1a1a1a" stroke="#1a1a1a" stroke-width="0.25">CC</text>
<rect x="1649.25" y="894.25" width="22.50" height="426.35" fill="#d9d9d9" stroke="#868686" stroke-width="1.5" stroke-linejoin="round"/>
<rect x="1298.00" y="894.25" width="351.25" height="426.35" fill="#ffffff"/>
<line x1="1353.88" y1="894.25" x2="1353.88" y2="1320.60" stroke="#ebebeb" stroke-width="0.65"/>
<line x1="1433.62" y1="894.25" x2="1433.62" y2="1320.60" stroke="#ebebeb" stroke-width="0.65"/>
<line x1="1513.38" y1="894.25" x2="1513.38" y2="1320.60" stroke="#ebebeb" stroke-width="0.65"/>
<line x1="1593.12" y1="894.25" x2="1593.12" y2="1320.60" stroke="#ebebeb" stroke-width="0.65"/>
<line x1="1314.00" y1="894.25" x2="1314.00" y2="1320.60" stroke="#ebebeb" stroke-width="1.3"/>
<line x1="1393.75" y1="894.25" x2="1393.75" y2="1320.60" stroke="#ebebeb" stroke-width="1.3"/>
<line x1="1473.50" y1="894.25" x2="1473.50" y2="1320.60" stroke="#ebebeb" stroke-width="1.3"/>
<line x1="1553.25" y1="894.25" x2="1553.25" y2="1320.60" stroke="#ebebeb" stroke-width="1.3"/>
<line x1="1633.00" y1="894.25" x2="1633.00" y2="1320.60" stroke="#ebebeb" stroke-width="1.3"/>
<line x1="1298.00" y1="919.00" x2="1649.25" y2="919.00" stroke="#ebebeb" stroke-width="1.3"/>
<line x1="1298.00" y1="960.92" x2="1649.25" y2="960.92" stroke="#ebebeb" stroke-width="1.3"/>
<line x1="1298.00" y1="1002.84" x2="1649.25" y2="1002.84" stroke="#ebebeb" stroke-width="1.3"/>
<line x1="1298.00" y1="1044.76" x2="1649.25" y2="1044.76" stroke="#ebebeb" stroke-width="1.3"/>
<line x1="1298.00" y1="1086.68" x2="1649.25" y2="1086.68" stroke="#ebebeb" stroke-width="1.3"/>
<line x1="1298.00" y1="1128.60" x2="1649.25" y2="1128.60" stroke="#ebebeb" stroke-width="1.3"/>
<line x1="1298.00" y1="1170.52" x2="1649.25" y2="1170.52" stroke="#ebebeb" stroke-width="1.3"/>
<line x1="1298.00" y1="1212.44" x2="1649.25" y2="1212.44" stroke="#ebebeb" stroke-width="1.3"/>
<line x1="1298.00" y1="1254.36" x2="1649.25" y2="1254.36" stroke="#ebebeb" stroke-width="1.3"/>
<line x1="1298.00" y1="1296.28" x2="1649.25" y2="1296.28" stroke="#ebebeb" stroke-width="1.3"/>
<rect x="1314.00" y="900.15" width="319.00" height="37.70" fill="#c94b37"/>
<rect x="1314.00" y="942.07" width="319.00" height="37.70" fill="#c94b37"/>
<rect x="1314.00" y="983.99" width="239.25" height="37.70" fill="#c74f3b"/>
<rect x="1314.00" y="1025.91" width="239.25" height="37.70" fill="#c7523e"/>
<rect x="1314.00" y="1067.83" width="79.75" height="37.70" fill="#c35c48"/>
<rect x="1314.00" y="1109.75" width="79.75" height="37.70" fill="#c35c48"/>
<rect x="1314.00" y="1151.67" width="79.75" height="37.70" fill="#c35f4b"/>
<rect x="1314.00" y="1193.59" width="79.75" height="37.70" fill="#bf6855"/>
<rect x="1314.00" y="1235.51" width="79.75" height="37.70" fill="#be6957"/>
<rect x="1314.00" y="1277.43" width="79.75" height="37.70" fill="#be6957"/>
<rect x="1298.00" y="894.25" width="351.25" height="426.35" fill="none" stroke="#868686" stroke-width="1.5" stroke-linejoin="round"/>
<text x="1290.90" y="924.47" font-size="16.4" text-anchor="end" fill="#111" stroke="#111" stroke-width="0.25">ubiquitin protein ligase binding</text>
<line x1="1294.25" y1="919.00" x2="1298.00" y2="919.00" stroke="#333333" stroke-width="1.4"/>
<text x="1290.90" y="966.39" font-size="16.4" text-anchor="end" fill="#111" stroke="#111" stroke-width="0.25">ubiquitin-like protein ligase binding</text>
<line x1="1294.25" y1="960.92" x2="1298.00" y2="960.92" stroke="#333333" stroke-width="1.4"/>
<text x="1290.90" y="999.56" font-size="16.4" text-anchor="end" fill="#111" stroke="#111" stroke-width="0.25">RNA polymerase II-specific DNA-binding</text>
<text x="1290.90" y="1017.06" font-size="16.4" text-anchor="end" fill="#111" stroke="#111" stroke-width="0.25">transcription factor binding</text>
<line x1="1294.25" y1="1002.84" x2="1298.00" y2="1002.84" stroke="#333333" stroke-width="1.4"/>
<text x="1290.90" y="1050.23" font-size="16.4" text-anchor="end" fill="#111" stroke="#111" stroke-width="0.25">DNA-binding transcription factor binding</text>
<line x1="1294.25" y1="1044.76" x2="1298.00" y2="1044.76" stroke="#333333" stroke-width="1.4"/>
<text x="1290.90" y="1092.15" font-size="16.4" text-anchor="end" fill="#111" stroke="#111" stroke-width="0.25">profilin binding</text>
<line x1="1294.25" y1="1086.68" x2="1298.00" y2="1086.68" stroke="#333333" stroke-width="1.4"/>
<text x="1290.90" y="1134.07" font-size="16.4" text-anchor="end" fill="#111" stroke="#111" stroke-width="0.25">U3 snoRNA binding</text>
<line x1="1294.25" y1="1128.60" x2="1298.00" y2="1128.60" stroke="#333333" stroke-width="1.4"/>
<text x="1290.90" y="1175.99" font-size="16.4" text-anchor="end" fill="#111" stroke="#111" stroke-width="0.25">dynactin binding</text>
<line x1="1294.25" y1="1170.52" x2="1298.00" y2="1170.52" stroke="#333333" stroke-width="1.4"/>
<text x="1290.90" y="1217.91" font-size="16.4" text-anchor="end" fill="#111" stroke="#111" stroke-width="0.25">NADPH binding</text>
<line x1="1294.25" y1="1212.44" x2="1298.00" y2="1212.44" stroke="#333333" stroke-width="1.4"/>
<text x="1290.90" y="1259.83" font-size="16.4" text-anchor="end" fill="#111" stroke="#111" stroke-width="0.25">omega peptidase activity</text>
<line x1="1294.25" y1="1254.36" x2="1298.00" y2="1254.36" stroke="#333333" stroke-width="1.4"/>
<text x="1290.90" y="1284.25" font-size="16.4" text-anchor="end" fill="#111" stroke="#111" stroke-width="0.25">oxidoreductase activity, acting on the</text>
<text x="1290.90" y="1301.75" font-size="16.4" text-anchor="end" fill="#111" stroke="#111" stroke-width="0.25">CH-NH group of donors, NAD or NADP as</text>
<text x="1290.90" y="1319.25" font-size="16.4" text-anchor="end" fill="#111" stroke="#111" stroke-width="0.25">acceptor</text>
<line x1="1294.25" y1="1296.28" x2="1298.00" y2="1296.28" stroke="#333333" stroke-width="1.4"/>
<line x1="1649.25" y1="894.25" x2="1649.25" y2="1320.60" stroke="#4d4d4d" stroke-width="1.6"/>
<text transform="translate(1656.10,1107.42) rotate(90)" font-size="12.5" text-anchor="middle" fill="#1a1a1a" stroke="#1a1a1a" stroke-width="0.25">MF</text>
<line x1="1314.00" y1="1320.50" x2="1314.00" y2="1324.40" stroke="#333333" stroke-width="1.4"/>
<text transform="translate(1314.00,1339.40) scale(1,1.04)" font-size="16" text-anchor="middle" fill="#111" stroke="#111" stroke-width="0.25">0</text>
<line x1="1393.75" y1="1320.50" x2="1393.75" y2="1324.40" stroke="#333333" stroke-width="1.4"/>
<text transform="translate(1393.75,1339.40) scale(1,1.04)" font-size="16" text-anchor="middle" fill="#111" stroke="#111" stroke-width="0.25">1</text>
<line x1="1473.50" y1="1320.50" x2="1473.50" y2="1324.40" stroke="#333333" stroke-width="1.4"/>
<text transform="translate(1473.50,1339.40) scale(1,1.04)" font-size="16" text-anchor="middle" fill="#111" stroke="#111" stroke-width="0.25">2</text>
<line x1="1553.25" y1="1320.50" x2="1553.25" y2="1324.40" stroke="#333333" stroke-width="1.4"/>
<text transform="translate(1553.25,1339.40) scale(1,1.04)" font-size="16" text-anchor="middle" fill="#111" stroke="#111" stroke-width="0.25">3</text>
<line x1="1633.00" y1="1320.50" x2="1633.00" y2="1324.40" stroke="#333333" stroke-width="1.4"/>
<text transform="translate(1633.00,1339.40) scale(1,1.04)" font-size="16" text-anchor="middle" fill="#111" stroke="#111" stroke-width="0.25">4</text>
<text x="1473.50" y="1358.75" font-size="16.2" text-anchor="middle" fill="#111" stroke="#111" stroke-width="0.25">Count</text>
<defs><linearGradient id="gD" x1="0" y1="0" x2="0" y2="1">
<stop offset="0.000" stop-color="#7ab5d2"/>
<stop offset="0.050" stop-color="#81b0c8"/>
<stop offset="0.100" stop-color="#88acbe"/>
<stop offset="0.150" stop-color="#90a8b5"/>
<stop offset="0.200" stop-color="#97a3ab"/>
<stop offset="0.250" stop-color="#9ba0a5"/>
<stop offset="0.300" stop-color="#9e9c9e"/>
<stop offset="0.350" stop-color="#a29898"/>
<stop offset="0.400" stop-color="#a69592"/>
<stop offset="0.450" stop-color="#aa908a"/>
<stop offset="0.500" stop-color="#ad8a82"/>
<stop offset="0.550" stop-color="#b0847a"/>
<stop offset="0.600" stop-color="#b47f72"/>
<stop offset="0.650" stop-color="#b7786a"/>
<stop offset="0.700" stop-color="#ba7261"/>
<stop offset="0.750" stop-color="#be6b58"/>
<stop offset="0.800" stop-color="#c16450"/>
<stop offset="0.850" stop-color="#c35e4a"/>
<stop offset="0.900" stop-color="#c55743"/>
<stop offset="0.950" stop-color="#c7503d"/>
<stop offset="1.000" stop-color="#c94a36"/>
</linearGradient></defs>
<rect x="1694.40" y="623.80" width="23.60" height="117.70" fill="url(#gD)"/>
<text transform="translate(1725.40,628.17) scale(1,1.04)" font-size="12.2" text-anchor="start" fill="#111" stroke="#111" stroke-width="0.25">0.05</text>
<line x1="1694.40" y1="647.34" x2="1699.10" y2="647.34" stroke="#ffffff" stroke-width="1"/>
<line x1="1713.30" y1="647.34" x2="1718.00" y2="647.34" stroke="#ffffff" stroke-width="1"/>
<text transform="translate(1725.40,651.71) scale(1,1.04)" font-size="12.2" text-anchor="start" fill="#111" stroke="#111" stroke-width="0.25">0.04</text>
<line x1="1694.40" y1="670.88" x2="1699.10" y2="670.88" stroke="#ffffff" stroke-width="1"/>
<line x1="1713.30" y1="670.88" x2="1718.00" y2="670.88" stroke="#ffffff" stroke-width="1"/>
<text transform="translate(1725.40,675.25) scale(1,1.04)" font-size="12.2" text-anchor="start" fill="#111" stroke="#111" stroke-width="0.25">0.03</text>
<line x1="1694.40" y1="694.42" x2="1699.10" y2="694.42" stroke="#ffffff" stroke-width="1"/>
<line x1="1713.30" y1="694.42" x2="1718.00" y2="694.42" stroke="#ffffff" stroke-width="1"/>
<text transform="translate(1725.40,698.79) scale(1,1.04)" font-size="12.2" text-anchor="start" fill="#111" stroke="#111" stroke-width="0.25">0.02</text>
<line x1="1694.40" y1="717.96" x2="1699.10" y2="717.96" stroke="#ffffff" stroke-width="1"/>
<line x1="1713.30" y1="717.96" x2="1718.00" y2="717.96" stroke="#ffffff" stroke-width="1"/>
<text transform="translate(1725.40,722.33) scale(1,1.04)" font-size="12.2" text-anchor="start" fill="#111" stroke="#111" stroke-width="0.25">0.01</text>
<text transform="translate(1725.40,745.87) scale(1,1.04)" font-size="12.2" text-anchor="start" fill="#111" stroke="#111" stroke-width="0.25">0.00</text>
<text x="1694.40" y="614.60" font-size="15" text-anchor="start" fill="#111" stroke="#111" stroke-width="0.25">p.adjust</text>
</g>
<g transform="translate(870.3,1164.6)">
<rect x="289.60" y="408.50" width="519.40" height="366.40" fill="#ffffff"/>
<line x1="372.09" y1="408.50" x2="372.09" y2="774.90" stroke="#ebebeb" stroke-width="0.8"/>
<line x1="490.28" y1="408.50" x2="490.28" y2="774.90" stroke="#ebebeb" stroke-width="0.8"/>
<line x1="608.47" y1="408.50" x2="608.47" y2="774.90" stroke="#ebebeb" stroke-width="0.8"/>
<line x1="726.66" y1="408.50" x2="726.66" y2="774.90" stroke="#ebebeb" stroke-width="0.8"/>
<line x1="313.00" y1="408.50" x2="313.00" y2="774.90" stroke="#ebebeb" stroke-width="1.5"/>
<line x1="431.19" y1="408.50" x2="431.19" y2="774.90" stroke="#ebebeb" stroke-width="1.5"/>
<line x1="549.38" y1="408.50" x2="549.38" y2="774.90" stroke="#ebebeb" stroke-width="1.5"/>
<line x1="667.56" y1="408.50" x2="667.56" y2="774.90" stroke="#ebebeb" stroke-width="1.5"/>
<line x1="785.75" y1="408.50" x2="785.75" y2="774.90" stroke="#ebebeb" stroke-width="1.5"/>
<line x1="289.60" y1="435.10" x2="809.00" y2="435.10" stroke="#ebebeb" stroke-width="1.5"/>
<line x1="289.60" y1="479.85" x2="809.00" y2="479.85" stroke="#ebebeb" stroke-width="1.5"/>
<line x1="289.60" y1="524.60" x2="809.00" y2="524.60" stroke="#ebebeb" stroke-width="1.5"/>
<line x1="289.60" y1="569.35" x2="809.00" y2="569.35" stroke="#ebebeb" stroke-width="1.5"/>
<line x1="289.60" y1="614.10" x2="809.00" y2="614.10" stroke="#ebebeb" stroke-width="1.5"/>
<line x1="289.60" y1="658.85" x2="809.00" y2="658.85" stroke="#ebebeb" stroke-width="1.5"/>
<line x1="289.60" y1="703.60" x2="809.00" y2="703.60" stroke="#ebebeb" stroke-width="1.5"/>
<line x1="289.60" y1="748.35" x2="809.00" y2="748.35" stroke="#ebebeb" stroke-width="1.5"/>
<rect x="313.00" y="414.95" width="472.75" height="40.30" fill="#c84d39"/>
<rect x="313.00" y="459.70" width="472.75" height="40.30" fill="#c65440"/>
<rect x="313.00" y="504.45" width="472.75" height="40.30" fill="#c35c48"/>
<rect x="313.00" y="549.20" width="236.38" height="40.30" fill="#be6957"/>
<rect x="313.00" y="593.95" width="236.38" height="40.30" fill="#b18378"/>
<rect x="313.00" y="638.70" width="472.75" height="40.30" fill="#ae887f"/>
<rect x="313.00" y="683.45" width="236.38" height="40.30" fill="#97a3ab"/>
<rect x="313.00" y="728.20" width="236.38" height="40.30" fill="#83b0c6"/>
<rect x="289.60" y="408.50" width="519.40" height="366.40" fill="none" stroke="#868686" stroke-width="1.8" stroke-linejoin="round"/>
<text x="281.20" y="441.97" font-size="19.2" text-anchor="end" fill="#111" stroke="#111" stroke-width="0.15">Adipocytokine signaling pathway</text>
<line x1="285.00" y1="435.10" x2="289.60" y2="435.10" stroke="#333333" stroke-width="1.6"/>
<text x="281.20" y="486.72" font-size="19.2" text-anchor="end" fill="#111" stroke="#111" stroke-width="0.15">Insulin resistance</text>
<line x1="285.00" y1="479.85" x2="289.60" y2="479.85" stroke="#333333" stroke-width="1.6"/>
<text x="281.20" y="531.47" font-size="19.2" text-anchor="end" fill="#111" stroke="#111" stroke-width="0.15">Alcoholic liver disease</text>
<line x1="285.00" y1="524.60" x2="289.60" y2="524.60" stroke="#333333" stroke-width="1.6"/>
<text x="281.20" y="576.22" font-size="19.2" text-anchor="end" fill="#111" stroke="#111" stroke-width="0.15">Non-homologous end-joining</text>
<line x1="285.00" y1="569.35" x2="289.60" y2="569.35" stroke="#333333" stroke-width="1.6"/>
<text x="281.20" y="620.97" font-size="19.2" text-anchor="end" fill="#111" stroke="#111" stroke-width="0.15">Folate biosynthesis</text>
<line x1="285.00" y1="614.10" x2="289.60" y2="614.10" stroke="#333333" stroke-width="1.6"/>
<text x="281.20" y="665.72" font-size="19.2" text-anchor="end" fill="#111" stroke="#111" stroke-width="0.15">Huntington disease</text>
<line x1="285.00" y1="658.85" x2="289.60" y2="658.85" stroke="#333333" stroke-width="1.6"/>
<text x="281.20" y="710.47" font-size="19.2" text-anchor="end" fill="#111" stroke="#111" stroke-width="0.15">Arginine and proline metabolism</text>
<line x1="285.00" y1="703.60" x2="289.60" y2="703.60" stroke="#333333" stroke-width="1.6"/>
<text x="281.20" y="755.22" font-size="19.2" text-anchor="end" fill="#111" stroke="#111" stroke-width="0.15">Legionellosis</text>
<line x1="285.00" y1="748.35" x2="289.60" y2="748.35" stroke="#333333" stroke-width="1.6"/>
<line x1="313.00" y1="774.90" x2="313.00" y2="779.30" stroke="#333333" stroke-width="1.6"/>
<text transform="translate(313.00,797.20) scale(1,1.04)" font-size="18.3" text-anchor="middle" fill="#111" stroke="#111" stroke-width="0.15">0.0</text>
<line x1="431.19" y1="774.90" x2="431.19" y2="779.30" stroke="#333333" stroke-width="1.6"/>
<text transform="translate(431.19,797.20) scale(1,1.04)" font-size="18.3" text-anchor="middle" fill="#111" stroke="#111" stroke-width="0.15">0.5</text>
<line x1="549.38" y1="774.90" x2="549.38" y2="779.30" stroke="#333333" stroke-width="1.6"/>
<text transform="translate(549.38,797.20) scale(1,1.04)" font-size="18.3" text-anchor="middle" fill="#111" stroke="#111" stroke-width="0.15">1.0</text>
<line x1="667.56" y1="774.90" x2="667.56" y2="779.30" stroke="#333333" stroke-width="1.6"/>
<text transform="translate(667.56,797.20) scale(1,1.04)" font-size="18.3" text-anchor="middle" fill="#111" stroke="#111" stroke-width="0.15">1.5</text>
<line x1="785.75" y1="774.90" x2="785.75" y2="779.30" stroke="#333333" stroke-width="1.6"/>
<text transform="translate(785.75,797.20) scale(1,1.04)" font-size="18.3" text-anchor="middle" fill="#111" stroke="#111" stroke-width="0.15">2.0</text>
<text x="549.25" y="818.50" font-size="19.3" text-anchor="middle" fill="#111" stroke="#111" stroke-width="0.15">Count</text>
<defs><linearGradient id="gE" x1="0" y1="0" x2="0" y2="1">
<stop offset="0.000" stop-color="#7ab5d2"/>
<stop offset="0.050" stop-color="#81b0c8"/>
<stop offset="0.100" stop-color="#88acbe"/>
<stop offset="0.150" stop-color="#90a8b5"/>
<stop offset="0.200" stop-color="#97a3ab"/>
<stop offset="0.250" stop-color="#9ba0a5"/>
<stop offset="0.300" stop-color="#9e9c9e"/>
<stop offset="0.350" stop-color="#a29898"/>
<stop offset="0.400" stop-color="#a69592"/>
<stop offset="0.450" stop-color="#aa908a"/>
<stop offset="0.500" stop-color="#ad8a82"/>
<stop offset="0.550" stop-color="#b0847a"/>
<stop offset="0.600" stop-color="#b47f72"/>
<stop offset="0.650" stop-color="#b7786a"/>
<stop offset="0.700" stop-color="#ba7261"/>
<stop offset="0.750" stop-color="#be6b58"/>
<stop offset="0.800" stop-color="#c16450"/>
<stop offset="0.850" stop-color="#c35e4a"/>
<stop offset="0.900" stop-color="#c55743"/>
<stop offset="0.950" stop-color="#c7503d"/>
<stop offset="1.000" stop-color="#c94a36"/>
</linearGradient></defs>
<rect x="835.50" y="534.80" width="27.60" height="138.40" fill="url(#gE)"/>
<text transform="translate(872.30,539.78) scale(1,1.04)" font-size="13.9" text-anchor="start" fill="#111" stroke="#111" stroke-width="0.25">0.05</text>
<line x1="835.50" y1="562.48" x2="840.90" y2="562.48" stroke="#ffffff" stroke-width="1"/>
<line x1="857.70" y1="562.48" x2="863.10" y2="562.48" stroke="#ffffff" stroke-width="1"/>
<text transform="translate(872.30,567.46) scale(1,1.04)" font-size="13.9" text-anchor="start" fill="#111" stroke="#111" stroke-width="0.25">0.04</text>
<line x1="835.50" y1="590.16" x2="840.90" y2="590.16" stroke="#ffffff" stroke-width="1"/>
<line x1="857.70" y1="590.16" x2="863.10" y2="590.16" stroke="#ffffff" stroke-width="1"/>
<text transform="translate(872.30,595.14) scale(1,1.04)" font-size="13.9" text-anchor="start" fill="#111" stroke="#111" stroke-width="0.25">0.03</text>
<line x1="835.50" y1="617.84" x2="840.90" y2="617.84" stroke="#ffffff" stroke-width="1"/>
<line x1="857.70" y1="617.84" x2="863.10" y2="617.84" stroke="#ffffff" stroke-width="1"/>
<text transform="translate(872.30,622.82) scale(1,1.04)" font-size="13.9" text-anchor="start" fill="#111" stroke="#111" stroke-width="0.25">0.02</text>
<line x1="835.50" y1="645.52" x2="840.90" y2="645.52" stroke="#ffffff" stroke-width="1"/>
<line x1="857.70" y1="645.52" x2="863.10" y2="645.52" stroke="#ffffff" stroke-width="1"/>
<text transform="translate(872.30,650.50) scale(1,1.04)" font-size="13.9" text-anchor="start" fill="#111" stroke="#111" stroke-width="0.25">0.01</text>
<text transform="translate(872.30,678.18) scale(1,1.04)" font-size="13.9" text-anchor="start" fill="#111" stroke="#111" stroke-width="0.25">0.00</text>
<text x="835.50" y="524.60" font-size="17.5" text-anchor="start" fill="#111" stroke="#111" stroke-width="0.25">p.adjust</text>
</g>
</svg></body></html>
